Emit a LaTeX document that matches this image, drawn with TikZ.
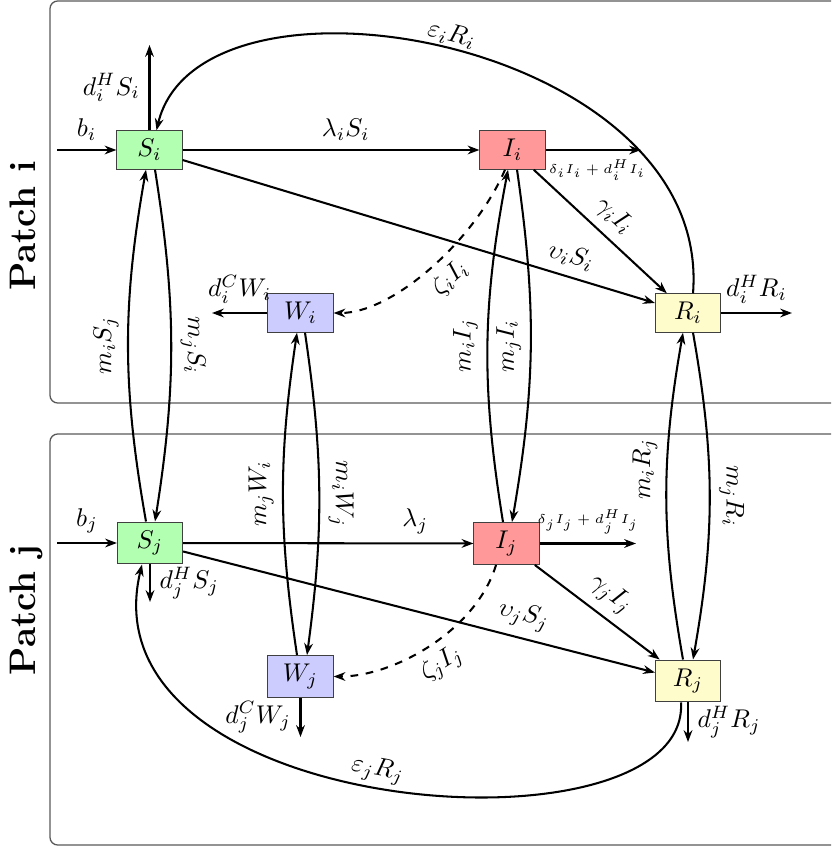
\documentclass[tikz,border=0pt]{standalone}
\usetikzlibrary{arrows.meta,calc}
\begin{document}
\begin{tikzpicture}[x=0.39pt,y=-0.39pt,
  box/.style={draw=black!75, minimum width=25.4pt, inner sep=3.33pt},
  flow/.style={thick,-{Stealth[length=4.6pt,width=3.4pt]}},
  infect/.style={flow,dashed},
  patchframe/.style={draw=black!65, rounded corners=3pt, line width=0.5pt},
  patchlabel/.style={font=\Large\bfseries, rotate=90, anchor=base},
  small/.style={font=\fontsize{4.2}{5}\selectfont},
]
\useasboundingbox (0,0) rectangle (831,848);
\clip (0,0) rectangle (831,848);

% patch frames and titles
\draw[patchframe] (50,1) rectangle (880,403);
\draw[patchframe] (50,434) rectangle (880,845);
\node[patchlabel] (pi) at (35,226) {Patch i};
\node[patchlabel] (pj) at (35,610) {Patch j};

% compartments
\node[box, fill=green!30]  (Si) at (149.5,150) {$S_i$};
\node[box, fill=red!40]    (Ii) at (512.5,150) {$I_i$};
\node[box, fill=blue!20]   (Wi) at (300.5,313) {$W_i$};
\node[box, fill=yellow!20] (Ri) at (688,313)   {$R_i$};
\node[box, fill=green!30]  (Sj) at (150,543)   {$S_j$};
\node[box, fill=red!40]    (Ij) at (506.5,543.5) {$I_j$};
\node[box, fill=blue!20]   (Wj) at (300.5,676.5) {$W_j$};
\node[box, fill=yellow!20] (Rj) at (688,681)   {$R_j$};

% free ends of inflow/outflow arrows
\coordinate (bi) at (57,150);
\coordinate (SiOut) at (149.5,45);
\coordinate (IiOut) at (641,150);
\coordinate (RiOut) at (792,313);
\coordinate (WiOut) at (212,313);
\coordinate (bj) at (57,543);
\coordinate (SjOut) at (150,602);
\coordinate (IjOut) at (636,543.5);
\coordinate (WjOut) at (300.5,737);
\coordinate (RjOut) at (688,742);

% patch i flows
\draw[flow] (bi) -- node[above]{$b_i$} (Si);
\draw[flow] (Si) -- node[left]{$d_i^H S_i$} (SiOut);
\draw[flow] (Si) -- node[above, pos=0.55]{$\lambda_i S_i$} (Ii);
\draw[flow] (Ii) -- node[below, small, xshift=1.5pt]{$\delta_i I_i + d_i^H I_i$} (IiOut);
\draw[flow] (Ii) -- node[above, sloped]{$\gamma_i I_i$} (Ri);
\draw[flow] (Si) -- node[above, sloped, pos=0.81]{$\upsilon_i S_i$} (Ri);
\draw[flow] (Ri) -- node[above]{$d_i^H R_i$} (RiOut);
\draw[flow] (Wi) -- node[above]{$d_i^C W_i$} (WiOut);
\draw[flow] ($(Ri.north)+(5,0)$) .. controls +(20,-254) and +(43,-181) ..
  node[pos=0.5, above, sloped, inner sep=1pt]{$\varepsilon_i R_i$} ($(Si.north)+(7,0)$);
\draw[infect] ($(Ii.south)+(-7.5,0)$) .. controls +(-30,70) and +(60,0) ..
  node[pos=0.47, below, sloped]{$\zeta_i I_i$} (Wi.east);

% patch j flows
\draw[flow] (bj) -- node[above]{$b_j$} (Sj);
\draw[flow] (Sj) -- node[right]{$d_j^H S_j$} (SjOut);
\draw[flow] (Sj) -- node[above, pos=0.8]{$\lambda_j$} (Ij);
\draw[flow] (Ij) -- node[above, small]{$\delta_j I_j + d_j^H I_j$} (IjOut);
\draw[flow] (Ij) -- node[above, sloped]{$\gamma_j I_j$} (Rj);
\draw[flow] (Sj) -- node[above, sloped, pos=0.71]{$\upsilon_j S_j$} (Rj);
\draw[flow] (Wj) -- node[left]{$d_j^C W_j$} (WjOut);
\draw[flow] (Rj) -- node[right]{$d_j^H R_j$} (RjOut);
\draw[flow] ($(Rj.south)+(-7,0)$) .. controls +(9,160) and +(-62,257) ..
  node[pos=0.52, above, sloped, inner sep=1.5pt]{$\varepsilon_j R_j$} ($(Sj.south)+(-8,0)$);
\draw[infect] ($(Ij.south)+(-10.5,0)$) .. controls +(-20,66) and +(60,0) ..
  node[pos=0.5, below, sloped]{$\zeta_j I_j$} (Wj.east);

% migration between the patches
\draw[flow] ($(Sj.north)+(-4,0)$) to[bend left=10]
  node[rotate=90, anchor=south]{$m_i S_j$} ($(Si.south)+(-3.5,0)$);
\draw[flow] ($(Si.south)+(5.5,0)$) to[bend left=9]
  node[rotate=-90, anchor=south]{$m_j S_i$} ($(Sj.north)+(5,0)$);
\draw[flow] ($(Wj.north)+(-3.5,0)$) to[bend left=8.5]
  node[rotate=90, anchor=south]{$m_j W_i$} ($(Wi.south)+(-3.5,0)$);
\draw[flow] ($(Wi.south)+(4.5,0)$) to[bend left=8]
  node[rotate=-90, anchor=south]{$m_i W_j$} ($(Wj.north)+(6.5,0)$);
\draw[flow] ($(Ij.north)+(-3.5,0)$) to[bend left=10]
  node[rotate=90, anchor=south]{$m_i I_j$} ($(Ii.south)+(-4.5,0)$);
\draw[flow] ($(Ii.south)+(4.5,0)$) to[bend left=9]
  node[rotate=90, anchor=south]{$m_j I_i$} ($(Ij.north)+(5.5,0)$);
\draw[flow] ($(Rj.north)+(-5,0)$) to[bend left=10]
  node[pos=0.59, rotate=90, anchor=south]{$m_i R_j$} ($(Ri.south)+(-5,0)$);
\draw[flow] ($(Ri.south)+(5,0)$) to[bend left=10]
  node[rotate=-90, anchor=south]{$m_j R_i$} ($(Rj.north)+(5,0)$);
\end{tikzpicture}
\end{document}
